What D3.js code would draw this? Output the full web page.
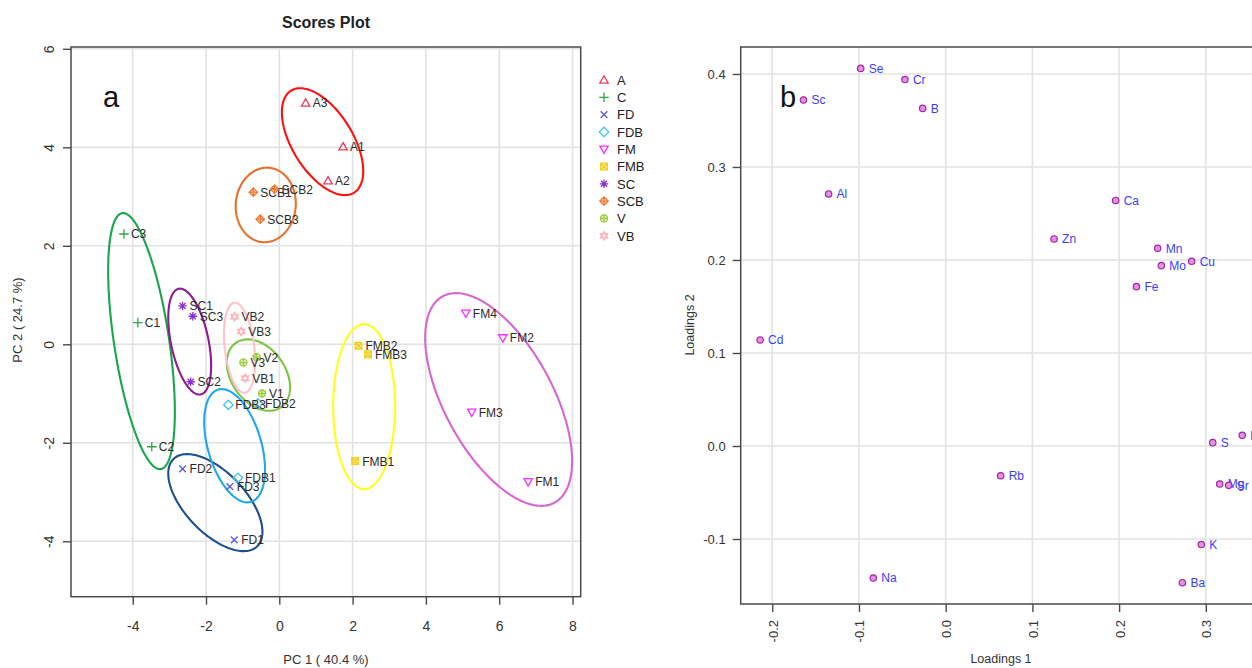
<!DOCTYPE html>
<html>
<head>
<meta charset="utf-8">
<script src="https://cdn.jsdelivr.net/npm/d3@7"></script>
<style>
  html, body { margin: 0; padding: 0; background: #fff; }
  svg { display: block; font-family: "Liberation Sans", Arial, Helvetica, sans-serif; }
</style>
</head>
<body>
<svg id="chart" width="1252" height="668"></svg>
<script>
// ---- Scores (panel a) ----
const groupNames   = ["A", "C", "FD", "FDB", "FM", "FMB", "SC", "SCB", "V", "VB"];
const markerColors = ["#ef3a5d", "#2fa84a", "#5a5ae0", "#3cc4ef", "#ff2cff", "#f2cf1a", "#8a2fd0", "#f07a32", "#9ccc3a", "#ffb2b8"];
const ringColors   = ["#ff1010", "#18a54e", "#1d4f8e", "#1ea9ea", "#d765d2", "#ffff1a", "#8e1b90", "#e8702c", "#7cc443", "#ffc2ca"];

const sampleNames  = ["A1", "A2", "A3", "C1", "C2", "C3", "FD1", "FD2", "FD3", "FDB1", "FDB2", "FDB3",
                      "FM1", "FM2", "FM3", "FM4", "FMB1", "FMB2", "FMB3", "SC1", "SC2", "SC3",
                      "SCB1", "SCB2", "SCB3", "V1", "V2", "V3", "VB1", "VB2", "VB3"];
const sampleGroup  = ["A", "A", "A", "C", "C", "C", "FD", "FD", "FD", "FDB", "FDB", "FDB",
                      "FM", "FM", "FM", "FM", "FMB", "FMB", "FMB", "SC", "SC", "SC",
                      "SCB", "SCB", "SCB", "V", "V", "V", "VB", "VB", "VB"];
const pc1 = [1.74, 1.33, 0.72, -3.86, -3.48, -4.24, -1.23, -2.64, -1.35, -1.13, -0.58, -1.39,
             6.79, 6.10, 5.25, 5.09, 2.07, 2.16, 2.42, -2.64, -2.42, -2.36,
             -0.71, -0.13, -0.52, -0.47, -0.62, -0.98, -0.93, -1.22, -1.04];
const pc2 = [4.01, 3.32, 4.90, 0.44, -2.08, 2.24, -3.97, -2.53, -2.89, -2.71, -1.20, -1.23,
             -2.79, 0.13, -1.38, 0.63, -2.37, -0.03, -0.20, 0.78, -0.76, 0.57,
             3.09, 3.15, 2.54, -1.00, -0.26, -0.37, -0.69, 0.56, 0.26];

// confidence ellipses per group: centre, half extents along each axis, tilt as correlation
const ellGroup = ["A", "C", "FD", "FDB", "FM", "FMB", "SC", "SCB", "V", "VB"];
const ellCx = [1.18, -3.76, -1.745, -1.22, 5.985, 2.315, -2.445, -0.37, -0.57, -1.085];
const ellCy = [4.115, 0.065, -3.215, -2.06, -1.12, -1.265, 0.055, 2.83, -0.625, -0.07];
const ellSx = [1.11, 0.91, 1.285, 0.83, 2.005, 0.845, 0.585, 0.82, 0.863, 0.425];
const ellSy = [1.085, 2.6, 0.985, 1.15, 2.16, 1.675, 1.075, 0.757, 0.725, 0.915];
const ellR  = [-0.55, -0.55, -0.6, -0.42, -0.58, 0.0, -0.45, 0.04, -0.34, -0.3];

const scoreXTicks = [-4, -2, 0, 2, 4, 6, 8];
const scoreYTicks = [-4, -2, 0, 2, 4, 6];

// ---- Loadings (panel b) ----
const elements  = ["Se", "Cr", "Sc", "B", "Al", "Cd", "Na", "Ca", "Zn", "Mn", "Mo", "Cu", "Fe",
                   "Rb", "S", "P", "Mg", "Sr", "K", "Ba"];
const loading1  = [-0.098, -0.047, -0.164, -0.0265, -0.135, -0.214, -0.0835, 0.196, 0.125, 0.2445, 0.2487, 0.2837, 0.220,
                   0.0634, 0.308, 0.342, 0.316, 0.3264, 0.2948, 0.273];
const loading2  = [0.406, 0.394, 0.372, 0.363, 0.271, 0.114, -0.142, 0.264, 0.2226, 0.2126, 0.1939, 0.1986, 0.1713,
                   -0.032, 0.0036, 0.0115, -0.0409, -0.0423, -0.106, -0.147];
const loadXTicks = [-0.2, -0.1, 0.0, 0.1, 0.2, 0.3];
const loadYTicks = [-0.1, 0.0, 0.1, 0.2, 0.3, 0.4];

const svg = d3.select("#chart");
const gridColor = "#e2e2e2";
const axisColor = "#4a4a4a";

// ================= panel a =================
const A = { left: 71, right: 580.7, top: 47, bottom: 596.7 };
const xA = d3.scaleLinear().domain([-5.684, 8.224]).range([A.left, A.right]);
const yA = d3.scaleLinear().domain([-5.125, 6.037]).range([A.bottom, A.top]);

const pa = svg.append("g");
pa.selectAll("line.gx").data(scoreXTicks).join("line")
  .attr("x1", d => xA(d)).attr("x2", d => xA(d)).attr("y1", A.top).attr("y2", A.bottom)
  .attr("stroke", gridColor).attr("stroke-width", 1.6);
pa.selectAll("line.gy").data(scoreYTicks).join("line")
  .attr("y1", d => yA(d)).attr("y2", d => yA(d)).attr("x1", A.left).attr("x2", A.right)
  .attr("stroke", gridColor).attr("stroke-width", 1.6);

pa.append("rect").attr("x", A.left).attr("y", A.top)
  .attr("width", A.right - A.left).attr("height", A.bottom - A.top)
  .attr("fill", "none").attr("stroke", axisColor).attr("stroke-width", 1.5);

// axes with d3 axis generators
const axA_x = d3.axisBottom(xA).tickValues(scoreXTicks).tickSize(8).tickFormat(d3.format("d"));
const gAx = pa.append("g").attr("transform", `translate(0,${A.bottom})`).call(axA_x);
gAx.select(".domain").remove();
gAx.selectAll(".tick line").attr("stroke", axisColor).attr("stroke-width", 1.4);
gAx.selectAll(".tick text").attr("font-size", 14).attr("fill", "#333").attr("dy", null).attr("y", 34)
  .attr("font-family", "Liberation Sans, Arial, sans-serif").text(d => d < 0 ? "-" + Math.abs(d) : d);

const axA_y = d3.axisLeft(yA).tickValues(scoreYTicks).tickSize(8);
const gAy = pa.append("g").attr("transform", `translate(${A.left},0)`).call(axA_y);
gAy.select(".domain").remove();
gAy.selectAll(".tick line").attr("stroke", axisColor).attr("stroke-width", 1.4);
gAy.selectAll(".tick text").attr("font-size", 14).attr("fill", "#333")
  .attr("font-family", "Liberation Sans, Arial, sans-serif")
  .attr("x", null).attr("dy", null).attr("text-anchor", "middle")
  .attr("transform", "translate(-17,0) rotate(-90)")
  .text(d => d < 0 ? "-" + Math.abs(d) : d);

// ellipses
const ellLine = d3.line();
ellGroup.forEach((g, i) => {
  const r = ellR[i], k = Math.sqrt(1 - r * r);
  const pts = d3.range(0, 361, 2).map(deg => {
    const t = deg * Math.PI / 180;
    const dx = ellSx[i] * Math.cos(t);
    const dy = ellSy[i] * (r * Math.cos(t) + k * Math.sin(t));
    return [xA(ellCx[i] + dx), yA(ellCy[i] + dy)];
  });
  pa.append("path").attr("d", ellLine(pts)).attr("fill", "none")
    .attr("stroke", ringColors[groupNames.indexOf(g)]).attr("stroke-width", 2.1);
});

// R-style plotting symbols
function drawSymbol(sel, group, cx, cy, color) {
  const g = sel.append("g").attr("transform", `translate(${cx},${cy})`)
    .attr("fill", "none").attr("stroke", color).attr("stroke-width", 1.3);
  const s = 4.2;
  switch (group) {
    case "A": g.append("path").attr("d", `M0,${-s}L${s},${s * 0.75}L${-s},${s * 0.75}Z`); break;
    case "C": g.append("path").attr("d", `M${-s - 0.6},0H${s + 0.6}M0,${-s - 0.6}V${s + 0.6}`); break;
    case "FD": g.append("path").attr("d", `M${-s * 0.8},${-s * 0.8}L${s * 0.8},${s * 0.8}M${-s * 0.8},${s * 0.8}L${s * 0.8},${-s * 0.8}`); break;
    case "FDB": g.append("path").attr("d", `M0,${-s - 0.5}L${s + 0.5},0L0,${s + 0.5}L${-s - 0.5},0Z`); break;
    case "FM": g.append("path").attr("d", `M0,${s}L${s},${-s * 0.75}L${-s},${-s * 0.75}Z`); break;
    case "FMB": g.append("path").attr("d", `M${-s * 0.8},${-s * 0.8}H${s * 0.8}V${s * 0.8}H${-s * 0.8}ZM${-s * 0.8},${-s * 0.8}L${s * 0.8},${s * 0.8}M${-s * 0.8},${s * 0.8}L${s * 0.8},${-s * 0.8}`)
      .attr("fill", color).attr("fill-opacity", 0.45); break;
    case "SC": g.append("path").attr("d", `M${-s},0H${s}M0,${-s}V${s}M${-s * 0.72},${-s * 0.72}L${s * 0.72},${s * 0.72}M${-s * 0.72},${s * 0.72}L${s * 0.72},${-s * 0.72}`); break;
    case "SCB": g.append("path").attr("d", `M0,${-s}L${s},0L0,${s}L${-s},0ZM${-s},0H${s}M0,${-s}V${s}`)
      .attr("fill", color).attr("fill-opacity", 0.3); break;
    case "V": g.append("circle").attr("r", s * 0.85).attr("fill", color).attr("fill-opacity", 0.3);
      g.append("path").attr("d", `M${-s * 0.85},0H${s * 0.85}M0,${-s * 0.85}V${s * 0.85}`); break;
    case "VB": g.append("path").attr("d", `M0,${-s}L${s * 0.87},${s * 0.5}L${-s * 0.87},${s * 0.5}ZM0,${s}L${s * 0.87},${-s * 0.5}L${-s * 0.87},${-s * 0.5}Z`); break;
  }
}

sampleNames.forEach((name, i) => {
  const gi = groupNames.indexOf(sampleGroup[i]);
  const cx = xA(pc1[i]), cy = yA(pc2[i]);
  drawSymbol(pa, sampleGroup[i], cx, cy, markerColors[gi]);
  pa.append("text").attr("x", cx + 7).attr("y", cy + 4.5).attr("font-size", 12)
    .attr("fill", "#2a2a2a").text(name);
});

// legend
groupNames.forEach((g, i) => {
  const ly = 80 + i * 17.3;
  drawSymbol(svg, g, 604, ly, markerColors[i]);
  svg.append("text").attr("x", 617).attr("y", ly + 4.8).attr("font-size", 13)
    .attr("fill", "#222").text(g);
});

svg.append("text").attr("x", 326).attr("y", 28).attr("text-anchor", "middle")
  .attr("font-size", 16).attr("font-weight", "bold").attr("fill", "#222").text("Scores Plot");
svg.append("text").attr("x", 326).attr("y", 664).attr("text-anchor", "middle")
  .attr("font-size", 13).attr("fill", "#333").text("PC 1 ( 40.4 %)");
svg.append("text").attr("transform", "translate(22,320) rotate(-90)").attr("text-anchor", "middle")
  .attr("font-size", 13).attr("fill", "#333").text("PC 2 ( 24.7 %)");
svg.append("text").attr("x", 103).attr("y", 107).attr("font-size", 29).attr("fill", "#111").text("a");

// ================= panel b =================
const B = { left: 740.7, right: 1262, top: 47, bottom: 604 };
const xB = d3.scaleLinear().domain([-0.2364, 0.3648]).range([B.left, B.right]);
const yB = d3.scaleLinear().domain([-0.1699, 0.4290]).range([B.bottom, B.top]);

const pb = svg.append("g");
pb.selectAll("line.gx").data(loadXTicks).join("line")
  .attr("x1", d => xB(d)).attr("x2", d => xB(d)).attr("y1", B.top).attr("y2", B.bottom)
  .attr("stroke", gridColor).attr("stroke-width", 1.6);
pb.selectAll("line.gy").data(loadYTicks).join("line")
  .attr("y1", d => yB(d)).attr("y2", d => yB(d)).attr("x1", B.left).attr("x2", B.right)
  .attr("stroke", gridColor).attr("stroke-width", 1.6);
pb.append("rect").attr("x", B.left).attr("y", B.top)
  .attr("width", B.right - B.left).attr("height", B.bottom - B.top)
  .attr("fill", "none").attr("stroke", axisColor).attr("stroke-width", 1.5);

const fmt1 = d3.format(".1f");
const axB_x = d3.axisBottom(xB).tickValues(loadXTicks).tickSize(8);
const gBx = pb.append("g").attr("transform", `translate(0,${B.bottom})`).call(axB_x);
gBx.select(".domain").remove();
gBx.selectAll(".tick line").attr("stroke", axisColor).attr("stroke-width", 1.4);
gBx.selectAll(".tick text").attr("font-size", 13).attr("fill", "#333")
  .attr("font-family", "Liberation Sans, Arial, sans-serif")
  .attr("y", null).attr("dy", null).attr("text-anchor", "end")
  .attr("transform", "translate(5,16) rotate(-90)")
  .text(d => fmt1(d).replace("−", "-"));

const axB_y = d3.axisLeft(yB).tickValues(loadYTicks).tickSize(8);
const gBy = pb.append("g").attr("transform", `translate(${B.left},0)`).call(axB_y);
gBy.select(".domain").remove();
gBy.selectAll(".tick line").attr("stroke", axisColor).attr("stroke-width", 1.4);
gBy.selectAll(".tick text").attr("font-size", 13).attr("fill", "#333")
  .attr("font-family", "Liberation Sans, Arial, sans-serif")
  .attr("x", -15).attr("dy", "0.36em")
  .text(d => fmt1(d).replace("−", "-"));

elements.forEach((el, i) => {
  const cx = xB(loading1[i]), cy = yB(loading2[i]);
  pb.append("circle").attr("cx", cx).attr("cy", cy).attr("r", 3.2)
    .attr("fill", "#e98be9").attr("stroke", "#9a2c9a").attr("stroke-width", 1.2);
  pb.append("text").attr("x", cx + 8).attr("y", cy + 4.3).attr("font-size", 12)
    .attr("fill", "#3b3bff").text(el);
});

svg.append("text").attr("x", 1001).attr("y", 663).attr("text-anchor", "middle")
  .attr("font-size", 12.5).attr("fill", "#333").text("Loadings 1");
svg.append("text").attr("transform", "translate(694,325) rotate(-90)").attr("text-anchor", "middle")
  .attr("font-size", 12.5).attr("fill", "#333").text("Loadings 2");
svg.append("text").attr("x", 780).attr("y", 107).attr("font-size", 29).attr("fill", "#111").text("b");
</script>
</body>
</html>
